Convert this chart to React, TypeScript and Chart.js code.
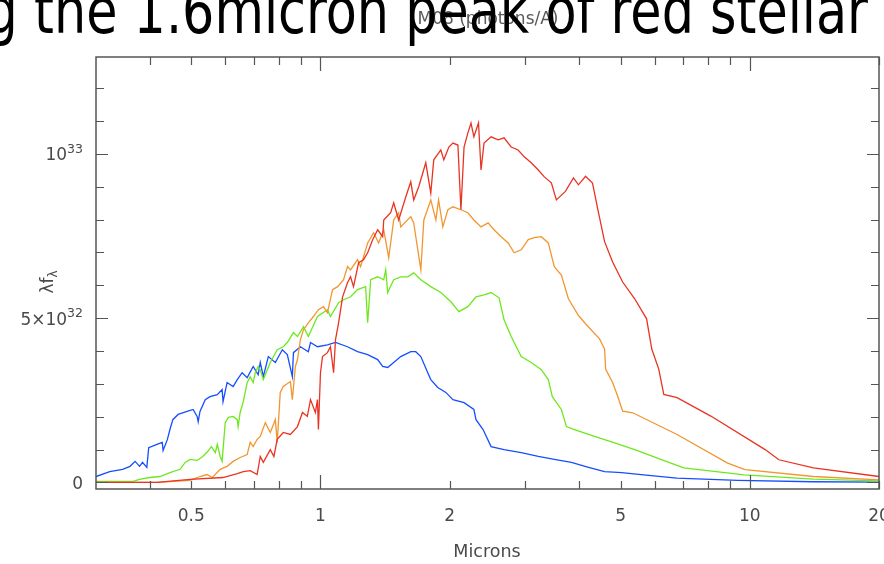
import React, { useEffect, useRef } from "react";
import { Chart, registerables } from "chart.js";

Chart.register(...registerables);

// Spectra: [wavelength in microns, lambda*f_lambda in units of 1e32]
const blueSpectrum: [number, number][] = [
  [0.300,0.18],[0.323,0.33],[0.346,0.40],[0.360,0.49],[0.370,0.64],[0.379,0.49],[0.385,0.61],[0.394,0.46],
  [0.398,1.06],[0.416,1.16],[0.428,1.22],[0.430,0.97],[0.440,1.31],[0.446,1.61],[0.453,1.91],[0.466,2.07],
  [0.489,2.16],[0.505,2.22],[0.516,2.01],[0.519,1.85],[0.524,2.16],[0.539,2.52],[0.553,2.61],[0.575,2.67],
  [0.590,2.83],[0.593,2.46],[0.606,3.04],[0.626,2.92],[0.640,3.13],[0.657,3.34],[0.675,3.19],[0.697,3.53],
  [0.716,3.28],[0.724,3.65],[0.736,3.22],[0.756,3.83],[0.785,3.65],[0.815,4.04],[0.837,3.89],[0.860,3.22],
  [0.865,3.95],[0.898,4.13],[0.937,3.98],[0.948,4.26],[0.984,4.13],[1.038,4.19],[1.084,4.26],[1.156,4.13],
  [1.220,3.98],[1.288,3.89],[1.359,3.74],[1.396,3.53],[1.434,3.50],[1.481,3.65],[1.538,3.83],[1.623,3.98],
  [1.667,3.98],[1.713,3.83],[1.778,3.34],[1.807,3.13],[1.876,2.89],[1.959,2.74],[2.035,2.52],[2.160,2.43],
  [2.277,2.22],[2.303,1.91],[2.392,1.61],[2.497,1.09],[2.677,1.00],[2.935,0.91],[3.217,0.79],[3.505,0.70],
  [3.842,0.61],[4.211,0.46],[4.590,0.33],[5.030,0.30],[5.660,0.23],[6.760,0.13],[7.820,0.10],[9.370,0.06],
  [14.07,0.02],[20.0,0.01],
];

const greenSpectrum: [number, number][] = [
  [0.300,0.03],[0.366,0.03],[0.379,0.09],[0.400,0.15],[0.423,0.18],[0.446,0.30],[0.471,0.40],[0.484,0.61],
  [0.497,0.70],[0.516,0.67],[0.532,0.79],[0.546,0.94],[0.557,1.09],[0.569,0.91],[0.575,1.16],[0.584,0.79],
  [0.590,0.64],[0.593,1.00],[0.600,1.82],[0.610,1.98],[0.626,2.01],[0.640,1.91],[0.643,1.70],[0.650,2.13],
  [0.661,2.46],[0.675,3.04],[0.686,3.22],[0.697,3.04],[0.705,3.34],[0.716,3.53],[0.724,3.43],[0.736,3.13],
  [0.764,3.65],[0.793,4.04],[0.819,4.13],[0.837,4.26],[0.865,4.56],[0.884,4.44],[0.913,4.74],[0.937,4.44],
  [0.984,5.05],[1.038,5.26],[1.055,5.05],[1.102,5.47],[1.132,5.56],[1.175,5.65],[1.220,5.87],[1.274,5.96],
  [1.288,4.86],[1.309,6.17],[1.359,6.26],[1.404,6.17],[1.419,6.47],[1.434,5.78],[1.481,6.17],[1.538,6.26],
  [1.597,6.26],[1.649,6.38],[1.713,6.17],[1.807,5.96],[1.907,5.78],[2.013,5.50],[2.101,5.20],[2.205,5.35],
  [2.303,5.65],[2.404,5.71],[2.497,5.78],[2.606,5.62],[2.677,4.95],[2.781,4.44],[2.935,3.83],[3.097,3.65],
  [3.269,3.43],[3.394,3.13],[3.468,2.61],[3.641,2.22],[3.740,1.70],[3.905,1.61],[4.349,1.40],[4.805,1.22],
  [5.395,1.00],[6.550,0.59],[7.020,0.44],[9.710,0.23],[14.07,0.10],[20.0,0.05],
];

const orangeSpectrum: [number, number][] = [
  [0.300,0.0],[0.416,0.0],[0.497,0.06],[0.524,0.18],[0.544,0.24],[0.560,0.15],[0.584,0.40],[0.606,0.49],
  [0.626,0.64],[0.650,0.76],[0.675,0.85],[0.686,1.22],[0.697,1.09],[0.712,1.31],[0.724,1.40],[0.744,1.82],
  [0.764,1.52],[0.785,1.91],[0.793,1.22],[0.806,2.74],[0.819,2.92],[0.851,3.07],[0.860,2.52],[0.874,3.53],
  [0.884,3.74],[0.898,4.35],[0.913,4.65],[0.937,4.86],[0.963,5.05],[0.989,5.26],[1.016,5.35],[1.038,5.17],
  [1.067,5.87],[1.096,5.96],[1.132,6.17],[1.156,6.57],[1.175,6.47],[1.220,6.78],[1.240,6.57],[1.288,7.29],
  [1.330,7.60],[1.366,7.29],[1.404,7.69],[1.442,6.84],[1.481,7.99],[1.521,8.21],[1.538,7.78],[1.623,8.09],
  [1.649,7.90],[1.713,6.47],[1.741,7.99],[1.807,8.60],[1.857,7.99],[1.884,8.60],[1.928,7.78],[1.980,8.30],
  [2.035,8.39],[2.124,8.30],[2.205,8.21],[2.277,7.99],[2.366,7.78],[2.457,7.90],[2.537,7.69],[2.635,7.48],
  [2.737,7.29],[2.826,6.99],[2.935,7.08],[3.048,7.39],[3.148,7.45],[3.269,7.48],[3.394,7.29],[3.505,6.57],
  [3.641,6.31],[3.780,5.59],[3.990,5.08],[4.144,4.83],[4.468,4.37],[4.590,4.06],[4.615,3.45],[4.792,3.04],
  [4.922,2.63],[5.057,2.17],[5.338,2.12],[6.770,1.46],[8.880,0.59],[9.750,0.39],[14.07,0.18],[20.0,0.08],
];

const redSpectrum: [number, number][] = [
  [0.300,0.0],[0.416,0.0],[0.497,0.09],[0.593,0.15],[0.640,0.27],[0.661,0.33],[0.686,0.36],[0.712,0.24],
  [0.724,0.79],[0.736,0.61],[0.764,1.00],[0.779,0.79],[0.793,1.31],[0.819,1.52],[0.851,1.46],[0.884,1.70],
  [0.908,2.13],[0.932,2.01],[0.948,2.52],[0.973,2.13],[0.984,2.52],[0.989,1.61],[1.000,3.34],[1.011,3.83],
  [1.038,3.95],[1.055,4.13],[1.073,3.34],[1.084,4.35],[1.102,4.86],[1.126,5.65],[1.156,6.08],[1.175,6.26],
  [1.194,5.96],[1.227,6.69],[1.260,6.78],[1.288,6.99],[1.323,7.39],[1.359,7.69],[1.396,7.48],[1.404,7.99],
  [1.457,8.21],[1.481,8.51],[1.521,7.99],[1.580,8.69],[1.623,9.15],[1.649,8.60],[1.694,9.00],[1.759,9.73],
  [1.807,8.81],[1.836,9.82],[1.907,10.12],[1.938,9.82],[1.991,10.21],[2.035,10.33],[2.090,10.27],[2.124,8.30],
  [2.160,10.21],[2.205,10.64],[2.242,10.94],[2.277,10.52],[2.334,10.94],[2.366,9.51],[2.404,10.33],[2.497,10.52],
  [2.592,10.43],[2.677,10.49],[2.781,10.21],[2.887,10.12],[2.983,9.91],[3.097,9.73],[3.217,9.51],[3.322,9.30],
  [3.450,9.12],[3.544,8.60],[3.720,8.86],[3.884,9.27],[3.990,9.06],[4.144,9.32],[4.302,9.11],[4.420,8.35],
  [4.590,7.33],[4.792,6.71],[5.057,6.10],[5.395,5.59],[5.750,4.98],[5.912,4.06],[6.137,3.45],[6.306,2.68],
  [6.771,2.58],[8.114,2.02],[10.86,1.00],[11.69,0.69],[14.07,0.44],[20.0,0.18],
];

const xTickLabels = [0.5, 1, 2, 5, 10, 20];
const xTickMarks = [0.4, 0.5, 0.6, 0.7, 0.8, 0.9, 1, 2, 3, 4, 5, 6, 7, 8, 9, 10, 20];
const xMajorMarks = [1, 10];
const yTickMarks = [0, 1, 2, 3, 4, 5, 6, 7, 8, 9, 10, 11, 12];
const yTickLabels: { value: number; base: string; sup: string }[] = [
  { value: 0, base: "0", sup: "" },
  { value: 5, base: "5×10", sup: "32" },
  { value: 10, base: "10", sup: "33" },
];

const slideTitle = "g the 1.6micron peak of red stellar";
const chartTitle = "M08 (photons/A)";
const xAxisTitle = "Microns";

const LABEL_FONT = '"DejaVu Sans", sans-serif';
const LABEL_COLOR = "#4a4a4a";

const decorPlugin = {
  id: "decor",
  afterDraw(chart: any) {
    const { ctx, chartArea: a, scales } = chart;
    const xs = scales.x;
    const ys = scales.y;
    ctx.save();

    // frame
    ctx.strokeStyle = "#555";
    ctx.lineWidth = 1.5;
    ctx.strokeRect(a.left, a.top, a.right - a.left, a.bottom - a.top);

    // ticks
    ctx.lineWidth = 1.2;
    ctx.beginPath();
    for (const v of xTickMarks) {
      const px = Math.round(xs.getPixelForValue(v)) + 0.5;
      const len = xMajorMarks.includes(v) ? 14 : 8;
      ctx.moveTo(px, a.bottom);
      ctx.lineTo(px, a.bottom - len);
      ctx.moveTo(px, a.top);
      ctx.lineTo(px, a.top + len);
    }
    for (const v of yTickMarks) {
      const py = Math.round(ys.getPixelForValue(v)) + 0.5;
      const len = v % 5 === 0 ? 12 : 8;
      ctx.moveTo(a.left, py);
      ctx.lineTo(a.left + len, py);
      ctx.moveTo(a.right, py);
      ctx.lineTo(a.right - len, py);
    }
    ctx.stroke();

    // x tick labels
    ctx.fillStyle = LABEL_COLOR;
    ctx.font = `17px ${LABEL_FONT}`;
    ctx.textAlign = "center";
    ctx.textBaseline = "alphabetic";
    for (const v of xTickLabels) {
      ctx.fillText(String(v), xs.getPixelForValue(v), a.bottom + 32);
    }
    // x axis title
    ctx.font = `17.5px ${LABEL_FONT}`;
    ctx.fillText(xAxisTitle, 487, 557);

    // y tick labels with superscripts
    const rightEdge = 83;
    for (const t of yTickLabels) {
      const py = ys.getPixelForValue(t.value);
      ctx.textAlign = "right";
      let x = rightEdge;
      if (t.sup) {
        ctx.font = `12.5px ${LABEL_FONT}`;
        ctx.fillText(t.sup, x, py - 1);
        x -= ctx.measureText(t.sup).width;
      }
      ctx.font = `17px ${LABEL_FONT}`;
      ctx.fillText(t.base, x, py + 6.5);
    }

    // y axis title: lambda f_lambda (rotated)
    ctx.save();
    ctx.translate(53, 282);
    ctx.rotate(-Math.PI / 2);
    ctx.textAlign = "left";
    ctx.font = `17px ${LABEL_FONT}`;
    const main = "λf";
    const wMain = ctx.measureText(main).width;
    ctx.font = `12px ${LABEL_FONT}`;
    const wSub = ctx.measureText("λ").width;
    const start = -(wMain + wSub) / 2;
    ctx.font = `17px ${LABEL_FONT}`;
    ctx.fillText(main, start, 0);
    ctx.font = `12px ${LABEL_FONT}`;
    ctx.fillText("λ", start + wMain, 4);
    ctx.restore();

    // small chart title
    ctx.font = `17px ${LABEL_FONT}`;
    ctx.fillStyle = "#5a5a5a";
    ctx.textAlign = "center";
    ctx.fillText(chartTitle, 488, 24);

    // big slide title (clipped at top)
    ctx.fillStyle = "#000";
    ctx.textAlign = "left";
    ctx.font = '64px "DejaVu Sans", sans-serif';
    const wG = ctx.measureText("g").width;
    const wSp = ctx.measureText(" ").width;
    const wAll = ctx.measureText(slideTitle).width;
    const s = (868 - 34) / (wAll - wG - wSp);
    const x0 = 34 - s * (wG + wSp);
    ctx.save();
    ctx.translate(x0, 33);
    ctx.scale(s, 1);
    ctx.fillText(slideTitle, 0, 0);
    ctx.restore();

    ctx.restore();
  },
};

function toPoints(spec: [number, number][]) {
  return spec.map(([x, y]) => ({ x, y }));
}

export default function App() {
  const canvasRef = useRef<HTMLCanvasElement | null>(null);

  useEffect(() => {
    if (!canvasRef.current) return;
    const mk = (spec: [number, number][], color: string) => ({
      data: toPoints(spec),
      borderColor: color,
      backgroundColor: color,
      borderWidth: 1.3,
      pointRadius: 0,
      tension: 0,
      fill: false,
    });
    const chart = new Chart(canvasRef.current, {
      type: "line",
      data: {
        datasets: [
          mk(redSpectrum, "rgb(232,52,34)"),
          mk(orangeSpectrum, "rgb(242,150,48)"),
          mk(greenSpectrum, "rgb(110,232,30)"),
          mk(blueSpectrum, "rgb(22,78,255)"),
        ],
      },
      options: {
        responsive: false,
        animation: false,
        devicePixelRatio: 1,
        layout: { padding: { left: 96, top: 57, right: 5, bottom: 75 } },
        plugins: { legend: { display: false }, tooltip: { enabled: false }, title: { display: false } },
        events: [],
        scales: {
          x: { type: "logarithmic", min: 0.3, max: 20, display: false },
          y: { type: "linear", min: -0.2, max: 12.95, display: false },
        },
      },
      plugins: [decorPlugin],
    });
    return () => chart.destroy();
  }, []);

  return (
    <div style={{ position: "fixed", left: 0, top: 0, width: 884, height: 564, background: "#fff", overflow: "hidden" }}>
      <canvas ref={canvasRef} width={884} height={564} style={{ display: "block" }} />
    </div>
  );
}
